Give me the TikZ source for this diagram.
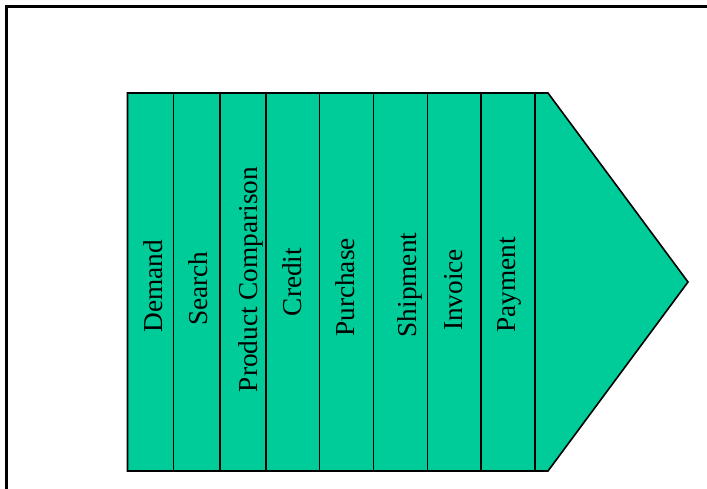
\documentclass[tikz,border=0pt]{standalone}
\usepackage{fontspec}
\setmainfont{Liberation Serif}
\usepackage{tikz}
\definecolor{chevgreen}{RGB}{0,204,153}
\tikzset{%
  % Specifications for style of the shapes and labels:
      frame/.style = {draw=black, line width=2.2pt},
    chevron/.style = {fill=chevgreen, draw=black, line width=1.6pt},
    divider/.style = {draw=black, line width=1.6pt},
      stage/.style = {rotate=90, anchor=base, inner sep=0pt,
                      font=\fontsize{27.3}{30}\selectfont},
}
\begin{document}
\begin{tikzpicture}[x=1pt, y=-1pt]
  \useasboundingbox (0,0) rectangle (707,489);
  \draw[frame] (707,6.5) -- (6.5,6.5) -- (6.5,489);

  % the arrow with its columns
  \draw[chevron] (127.5,93) -- (548,93) -- (688,282) -- (548,471) -- (127.5,471) -- cycle;
  \draw[divider] (173.5,93) -- (173.5,471);
  \draw[divider] (219.7,93) -- (219.7,471);
  \draw[divider] (266,93)   -- (266,471);
  \draw[divider] (319.3,93) -- (319.3,471);
  \draw[divider] (373.3,93) -- (373.3,471);
  \draw[divider] (427.3,93) -- (427.3,471);
  \draw[divider] (481,93)   -- (481,471);
  \draw[divider] (534.7,93) -- (534.7,471);

  % stage labels
  \node (demand)     [stage] at (162,286)   {Demand};
  \node (search)     [stage] at (207,288.5) {Search};
  \node (comparison) [stage] at (257,279.5) {Product Comparison};
  \node (credit)     [stage] at (301,282)   {Credit};
  \node (purchase)   [stage] at (354,287.5) {Purchase};
  \node (shipment)   [stage] at (416.5,285) {Shipment};
  \node (invoice)    [stage] at (462,290)   {Invoice};
  \node (payment)    [stage] at (515.5,285) {Payment};
\end{tikzpicture}
\end{document}
